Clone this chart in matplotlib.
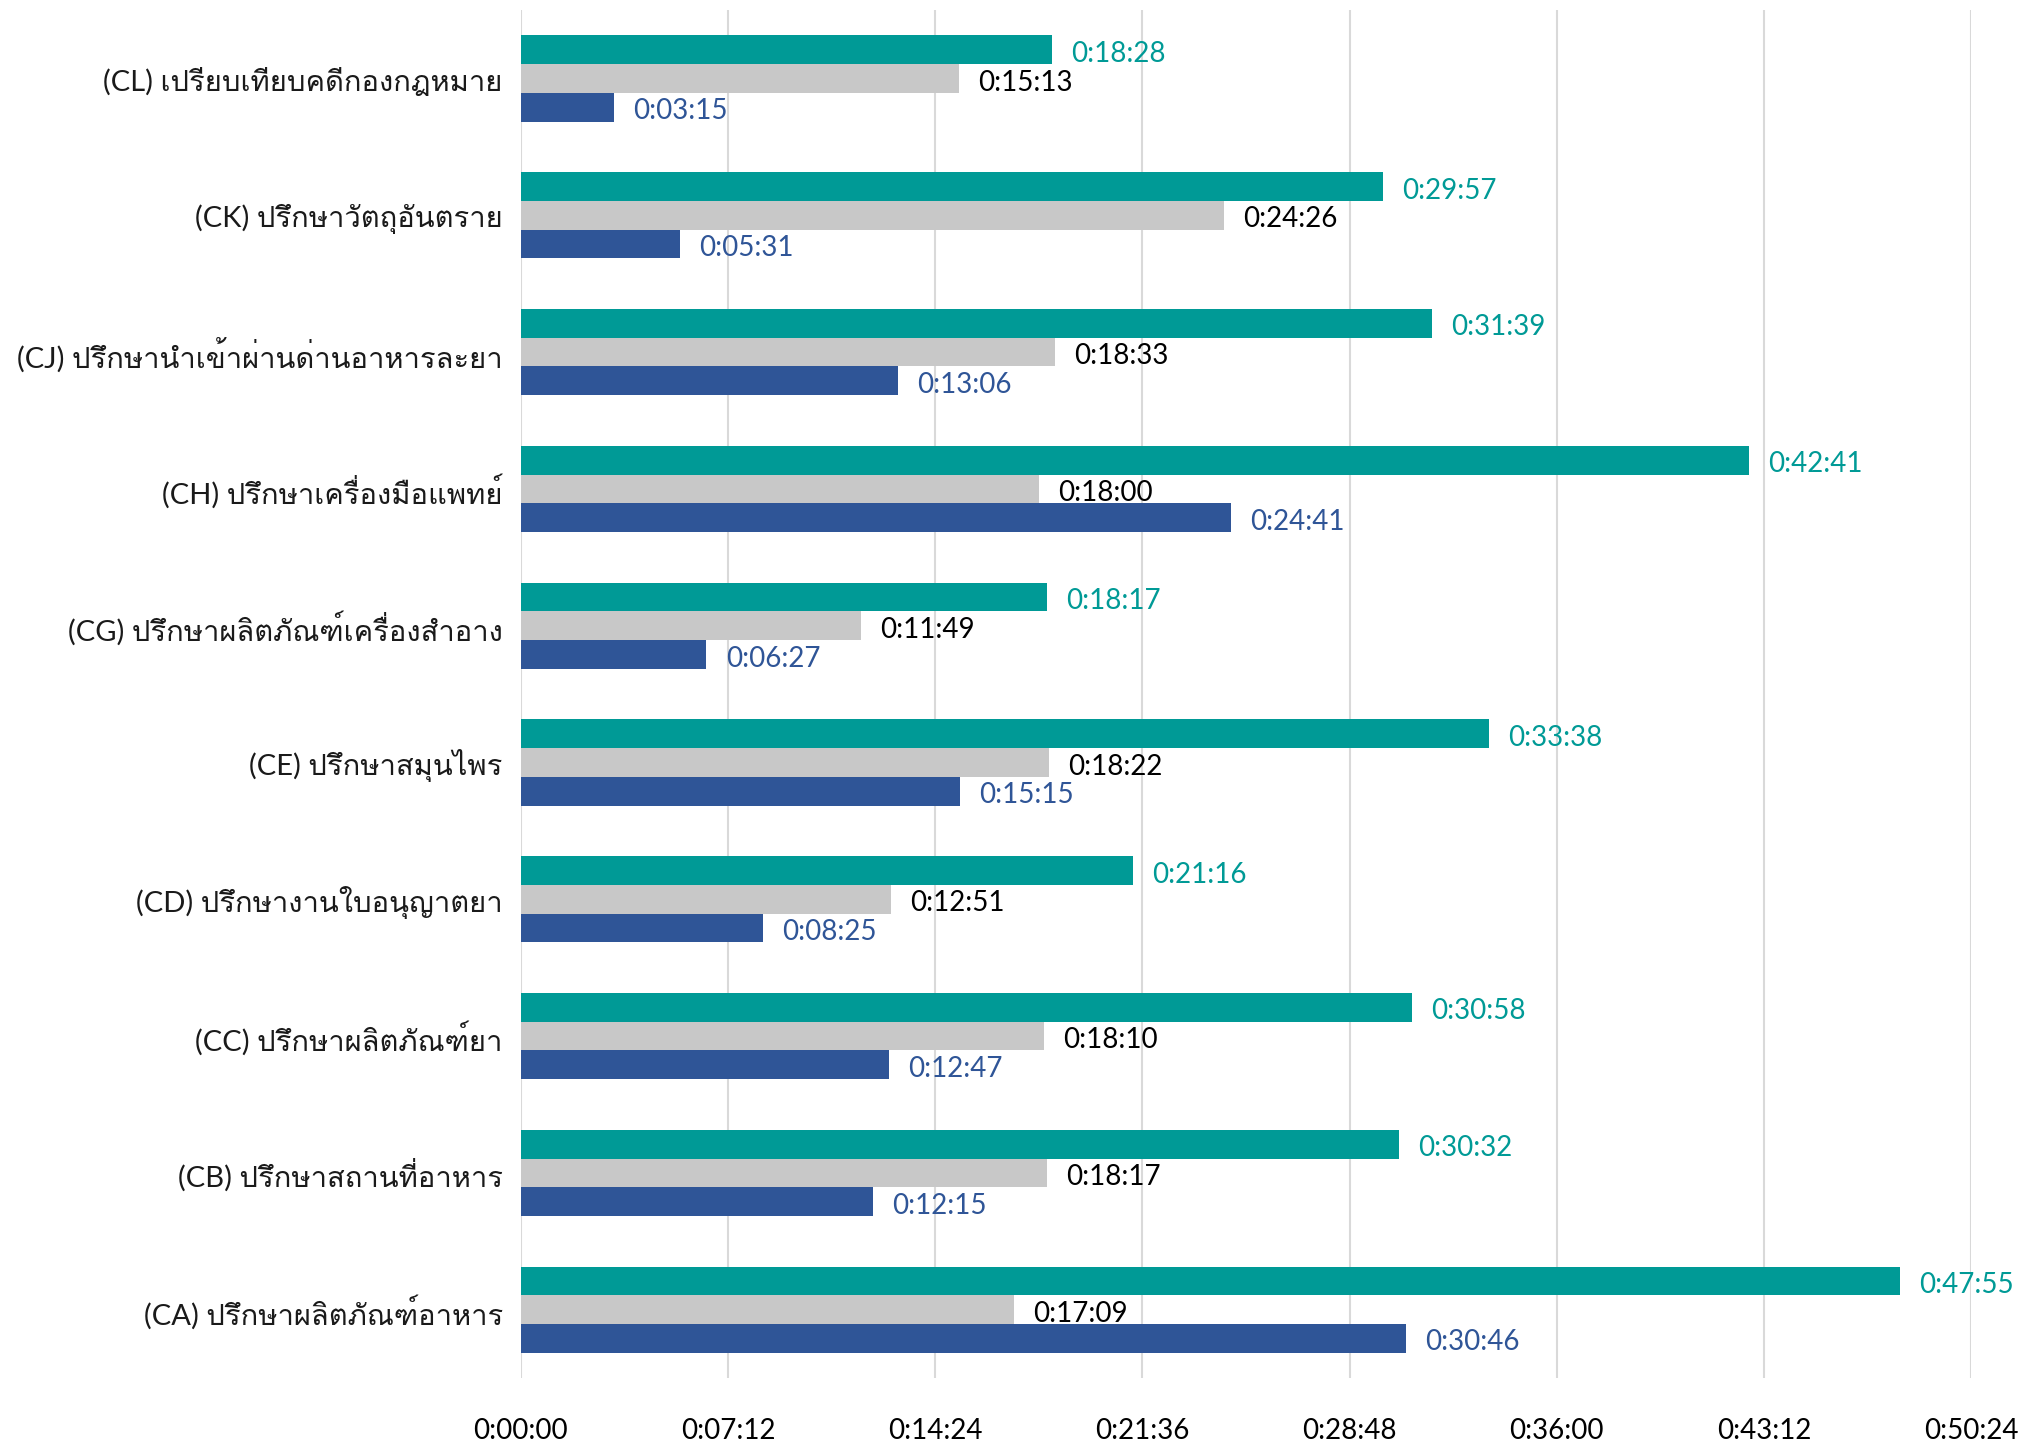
import matplotlib
matplotlib.use("Agg")
import matplotlib.pyplot as plt
from matplotlib import font_manager
from matplotlib.ft2font import FT2Font

categories = [
    "(CL) เปรียบเทียบคดีกองกฎหมาย",
    "(CK) ปรึกษาวัตถุอันตราย",
    "(CJ) ปรึกษานำเข้าผ่านด่านอาหารละยา",
    "(CH) ปรึกษาเครื่องมือแพทย์",
    "(CG) ปรึกษาผลิตภัณฑ์เครื่องสำอาง",
    "(CE) ปรึกษาสมุนไพร",
    "(CD) ปรึกษางานใบอนุญาตยา",
    "(CC) ปรึกษาผลิตภัณฑ์ยา",
    "(CB) ปรึกษาสถานที่อาหาร",
    "(CA) ปรึกษาผลิตภัณฑ์อาหาร",
]
teal_vals = ["18:28", "29:57", "31:39", "42:41", "18:17", "33:38", "21:16", "30:58", "30:32", "47:55"]
gray_vals = ["15:13", "24:26", "18:33", "18:00", "11:49", "18:22", "12:51", "18:10", "18:17", "17:09"]
blue_vals = ["3:15", "5:31", "13:06", "24:41", "6:27", "15:15", "8:25", "12:47", "12:15", "30:46"]
tick_secs = [0, 432, 864, 1296, 1728, 2160, 2592, 3024]


def to_sec(s):
    m, sec = s.split(":")
    return int(m) * 60 + int(sec)


def fmt(sec):
    sec = int(round(sec))
    return f"{sec // 3600}:{sec % 3600 // 60:02d}:{sec % 60:02d}"


# find a font that can draw Thai
thai_font = None
for fe in font_manager.fontManager.ttflist:
    try:
        cmap = FT2Font(fe.fname).get_charmap()
    except Exception:
        continue
    if 0x0E1B in cmap and 0x0E23 in cmap:
        thai_font = fe.name
        break

families = ["Lato"] + ([thai_font] if thai_font else []) + ["DejaVu Sans"]
plt.rcParams["font.family"] = families

TEAL = "#009A96"
GRAY = "#C8C8C8"
BLUE = "#2F5597"

fig = plt.figure(figsize=(20.23, 14.48), dpi=100)
ax = fig.add_axes([0.2575, 0.0483, 0.7168, 0.9447])

h = 0.21
ys = list(range(len(categories)))
series = [(teal_vals, TEAL, TEAL, -h), (gray_vals, GRAY, "black", 0), (blue_vals, BLUE, BLUE, h)]
for vals, col, tcol, off in series:
    secs = [to_sec(v) for v in vals]
    yy = [y + off for y in ys]
    ax.barh(yy, secs, height=h, color=col, zorder=2)
    for y, s in zip(yy, secs):
        ax.text(s + 40, y + 0.03, fmt(s), color=tcol, fontsize=20, va="center", ha="left")

ax.set_ylim(len(categories) - 0.5, -0.5)
ax.set_xlim(0, 3024)
ax.set_xticks(tick_secs)
ax.set_xticklabels([fmt(t) for t in tick_secs], fontsize=20)
ax.set_yticks(ys)
ax.set_yticklabels(categories, fontsize=21, color="#1a1a1a")
ax.tick_params(axis="x", length=0, pad=29)
ax.tick_params(axis="y", length=0, pad=13)
ax.grid(axis="x", color="#D9D9D9", linewidth=1.5, zorder=0)
ax.set_axisbelow(True)
for sp in ax.spines.values():
    sp.set_visible(False)

fig.savefig("out.png", dpi=100)
